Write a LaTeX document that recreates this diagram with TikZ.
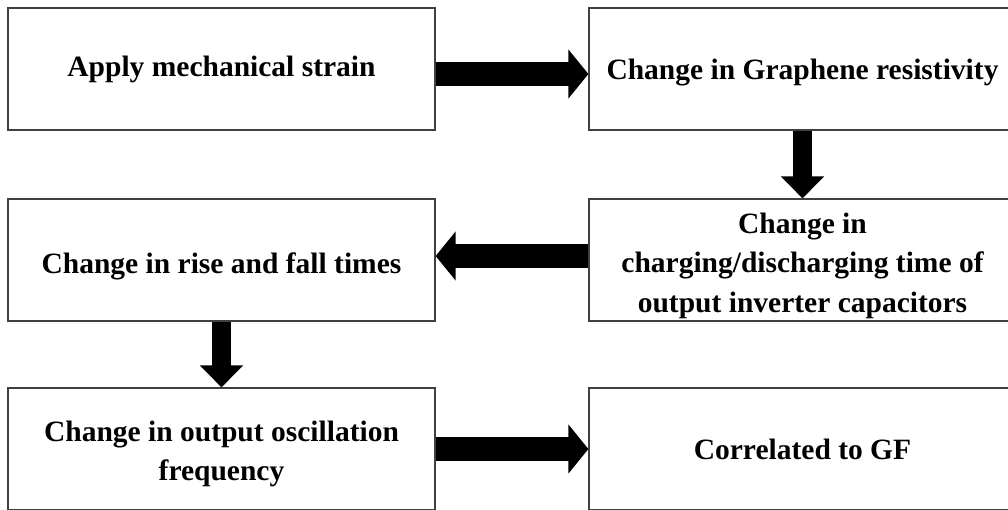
\documentclass[tikz,border=0pt]{standalone}
\usepackage{fontspec}
\setmainfont{Liberation Serif}
\usetikzlibrary{positioning,calc,arrows.meta}
\tikzstyle{block} = [draw=black!75, line width=1.2pt, minimum width=427pt, minimum height=122pt, align=center]
\tikzstyle{hflow} = [line width=24pt, -{Triangle[length=20pt, width=48pt]}]
\tikzstyle{vflow} = [line width=19pt, -{Triangle[length=22pt, width=42pt]}]

\begin{document}
\begin{tikzpicture}[x=1pt, y=-1pt]
\tikzstyle{every node}=[inner sep=1pt, font=\fontsize{29.5}{39.5}\selectfont\bfseries]
	\useasboundingbox (0,0) rectangle (1008,509);
	\clip (0,0) rectangle (1008,509);

	\node[block] (strain) at (221.5, 69) {Apply mechanical strain};
	\node[block, text height=28pt, text depth=6.4pt] (resist) at (802.5, 69) {Change in Graphene resistivity};
	\node[block, text height=34pt, text depth=6.4pt] (rise) at (221.5, 260) {Change in rise and fall times};
	\node[block, text height=111pt, text depth=6.4pt] (charge) at (802.5, 260) {Change in\\charging/discharging time of\\output inverter capacitors};
	\node[block, text height=69.5pt, text depth=6.4pt] (freq) at (221.5, 449) {Change in output oscillation\\frequency};
	\node[block] (gf) at (802.5, 449) {Correlated to GF};

	\draw[hflow]  ([yshift=-5pt]strain.east) -- ([yshift=-5pt]strain.east -| resist.west);
	\draw[vflow]  (resist.south) -- (charge.north);
	\draw[hflow]  ([yshift=4pt]charge.west) -- ([yshift=4pt]charge.west -| rise.east);
	\draw[vflow]  (rise.south) -- (freq.north);
	\draw[hflow]  (freq.east) -- (gf.west);
\end{tikzpicture}
\end{document}
